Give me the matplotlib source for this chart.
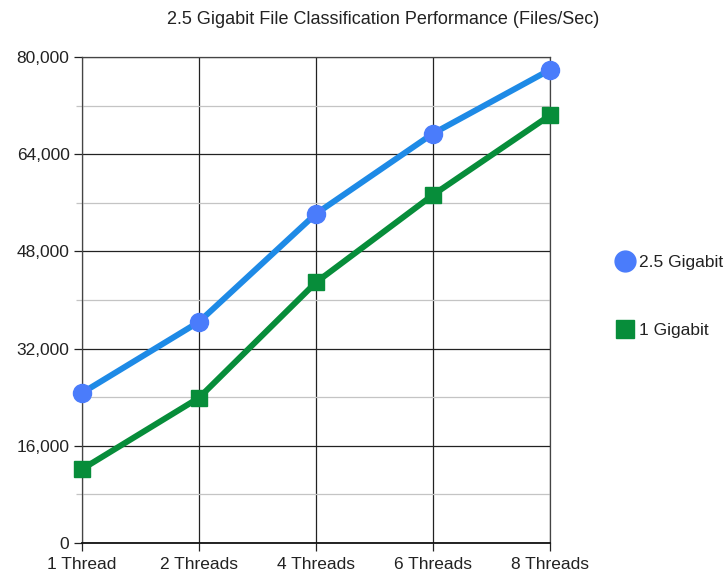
import matplotlib
matplotlib.use("Agg")
import matplotlib.pyplot as plt
from matplotlib.lines import Line2D
from matplotlib.ticker import FuncFormatter, MultipleLocator

plt.rcParams['font.family'] = ['Liberation Sans', 'DejaVu Sans']

categories = ["1 Thread", "2 Threads", "4 Threads", "6 Threads", "8 Threads"]
gigabit_25 = [24700, 36400, 54200, 67400, 77900]
gigabit_1 = [12150, 23900, 42900, 57300, 70400]
series_names = ["2.5 Gigabit", "1 Gigabit"]
title = "2.5 Gigabit File Classification Performance (Files/Sec)"

W, H = 728, 575
fig = plt.figure(figsize=(W / 100, H / 100), dpi=100)
ax = fig.add_axes([82 / W, 1 - 543 / H, (550 - 82) / W, (543 - 57) / H])

x = list(range(len(categories)))
blue_line, blue_mark = "#1e8ae6", "#4a7cfb"
green = "#078d3a"

ax.plot(x, gigabit_25, color=blue_line, lw=4.3, marker="o", markersize=13,
        markerfacecolor=blue_mark, markeredgecolor=blue_mark, clip_on=False, zorder=5)
ax.plot(x, gigabit_1, color=green, lw=4.3, marker="s", markersize=12,
        markerfacecolor=green, markeredgecolor=green, clip_on=False, zorder=4)

ax.set_xlim(0, len(categories) - 1)
ax.set_ylim(0, 80000)
ax.set_xticks(x)
ax.set_xticklabels(categories)
ax.yaxis.set_major_locator(MultipleLocator(16000))
ax.yaxis.set_minor_locator(MultipleLocator(8000))
ax.yaxis.set_major_formatter(FuncFormatter(lambda v, p: f"{int(v):,}"))

ax.grid(True, which="major", axis="both", color="#222222", lw=0.9, zorder=1)
ax.grid(True, which="minor", axis="y", color="#c4c4c4", lw=0.9, zorder=0)
ax.set_axisbelow(True)

for s in ax.spines.values():
    s.set_color("#444444")
    s.set_linewidth(0.9)
ax.spines["bottom"].set_color("#111111")
ax.spines["bottom"].set_linewidth(1.3)

ax.tick_params(axis="both", which="major", length=6, width=0.9, color="#222222",
               labelsize=12.5, labelcolor="#222222", pad=3)
ax.tick_params(axis="y", which="minor", length=4, width=0.9, color="#c4c4c4")
ax.tick_params(axis="x", which="major", pad=4)

fig.text(383.5 / W, 1 - 20 / H, title, ha="center", va="center",
         fontsize=13, color="#222222")

handles = [
    Line2D([], [], linestyle="None", marker="o", markersize=15,
           markerfacecolor=blue_mark, markeredgecolor=blue_mark),
    Line2D([], [], linestyle="None", marker="s", markersize=13,
           markerfacecolor=green, markeredgecolor=green),
]
fig.legend(handles, series_names, loc="center left",
           bbox_to_anchor=(606 / W, 1 - 296.5 / H), frameon=False,
           fontsize=12.5, handlelength=1.2, handletextpad=0.2,
           labelspacing=3.05, borderpad=0, labelcolor="#222222")

fig.savefig("out.png", dpi=100)
